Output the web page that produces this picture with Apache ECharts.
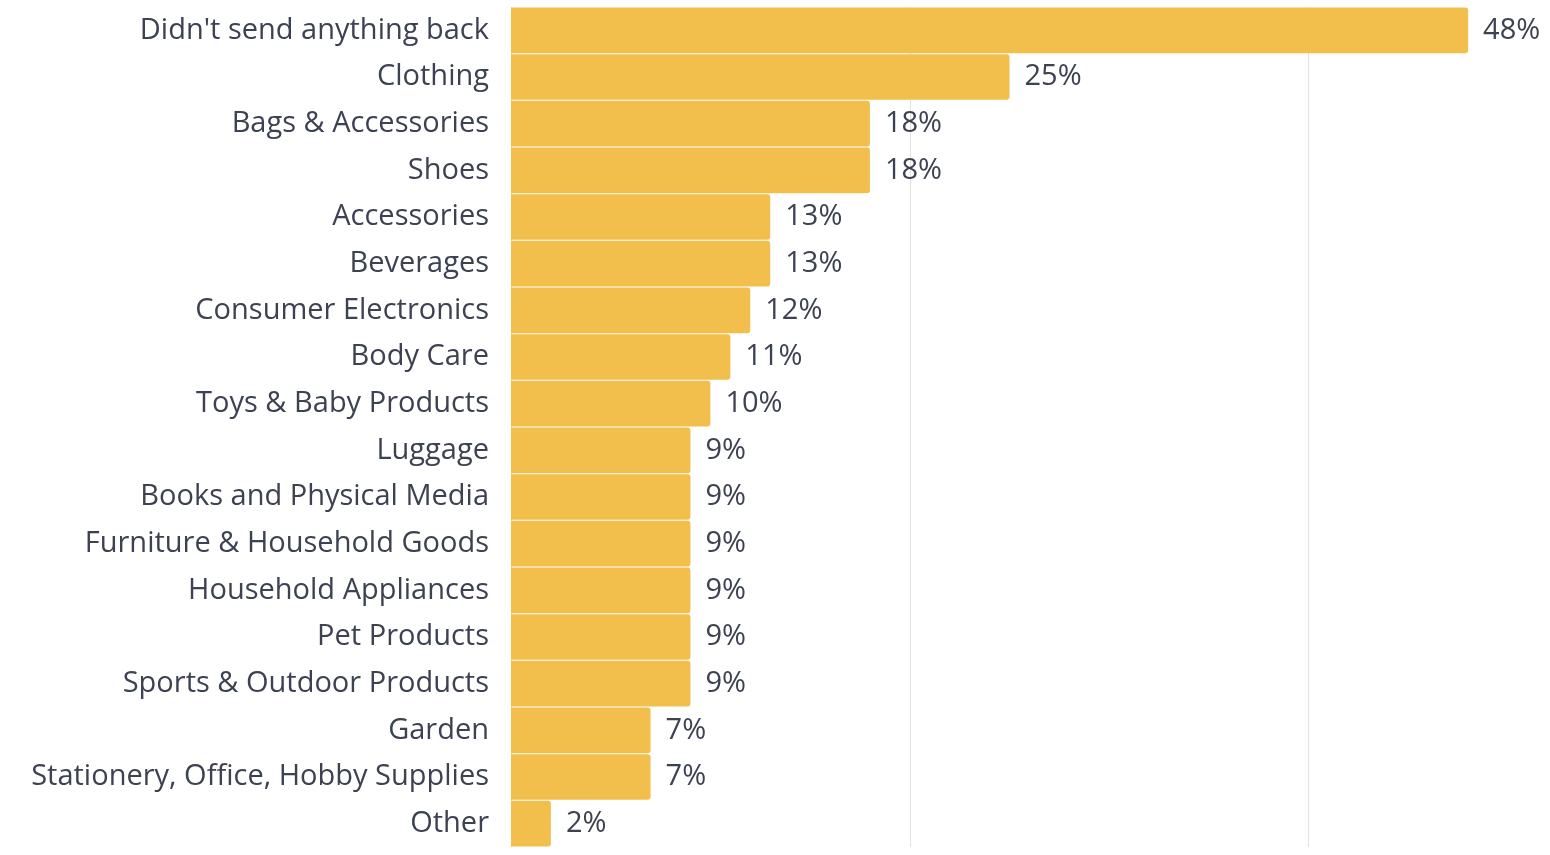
<!DOCTYPE html>
<html><head><meta charset="utf-8">
<script src="https://cdn.jsdelivr.net/npm/echarts@6/dist/echarts.min.js"></script>
<style>html,body{margin:0;padding:0;background:#fff}#c{width:1550px;height:855px}</style>
</head><body><div id="c"></div>
<script>
const categories = ["Didn't send anything back","Clothing","Bags & Accessories","Shoes","Accessories","Beverages","Consumer Electronics","Body Care","Toys & Baby Products","Luggage","Books and Physical Media","Furniture & Household Goods","Household Appliances","Pet Products","Sports & Outdoor Products","Garden","Stationery, Office, Hobby Supplies","Other"];
const values = [48,25,18,18,13,13,12,11,10,9,9,9,9,9,9,7,7,2];
const FONT = "'Open Sans', sans-serif";
const chart = echarts.init(document.getElementById('c'));
chart.setOption({
  animation:false,
  grid:{left:511,right:42,top:7,bottom:8,containLabel:false},
  xAxis:{type:'value',min:0,max:50,interval:20,axisLabel:{show:false},axisLine:{show:false},axisTick:{show:false},
    splitLine:{show:true,showMaxLine:false,lineStyle:{color:'#e2e2e2',width:1}}},
  yAxis:{type:'category',inverse:true,data:categories,axisLine:{show:false},axisTick:{show:false},
    axisLabel:{margin:22,fontSize:29,color:'#3d4252',fontFamily:FONT}},
  series:[{type:'bar',data:values,barCategoryGap:'2%',
    itemStyle:{color:'#F2BF4C',borderRadius:[0,3,3,0]},
    label:{show:true,position:'right',distance:15,formatter:'{c}%',fontSize:29,color:'#3d4252',fontFamily:FONT}}]
});
</script></body></html>
